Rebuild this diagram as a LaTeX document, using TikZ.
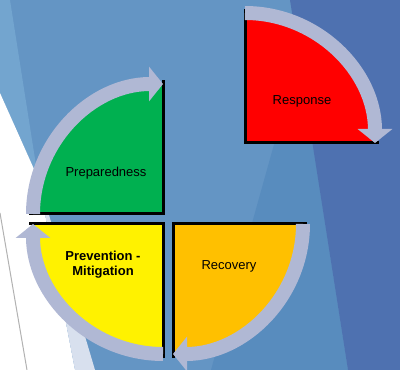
\documentclass[tikz,border=0pt]{standalone}
\usepackage{fontspec}
\setmainfont{Liberation Sans}
\usetikzlibrary{arrows.meta}
\definecolor{bgblue}{HTML}{6495C4}
\definecolor{bglight}{HTML}{73A5CF}
\definecolor{bgmid}{HTML}{588CBE}
\definecolor{bgdark}{HTML}{4E71B0}
\definecolor{bglav}{HTML}{D8E0EE}
\definecolor{ringgray}{HTML}{B0B8D4}
\definecolor{prepgreen}{HTML}{00B050}
\definecolor{recovorange}{HTML}{FFC000}
\tikzset{
  rim/.style={line width=3pt, black},
  cyclearrow/.style={line width=14pt, ringgray, -{Triangle[width=34pt,length=14pt]}},
  phase/.style={font=\fontsize{13}{15}\selectfont, text=black, align=center}
}

\begin{document}
\begin{tikzpicture}[x=1pt, y=1pt]
  \useasboundingbox (0,0) rectangle (400,370);
  % background
  \fill[bgblue] (0,0) rectangle (400,370);
  \fill[bglight] (0,370) -- (10,370) -- (38,192) -- (0,277) -- cycle;
  \fill[white] (0,277) -- (38,192) -- (75,0) -- (0,0) -- cycle;
  \fill[bglav] (38,192) -- (95,0) -- (75,0) -- cycle;
  \draw[gray!60, line width=1pt] (0,157) -- (27,0);
  \fill[bgmid] (299,315) -- (348,0) -- (211,0) -- cycle;
  \fill[bgdark] (290,370) -- (400,370) -- (400,0) -- (348,0) -- cycle;

  \coordinate (G) at (163,156);
  \coordinate (Y) at (163,146);
  \coordinate (O) at (173,146);
  \coordinate (R) at (245,227);

  % quarters
  \fill[prepgreen] (G) -- ++(180:130) arc[start angle=180, end angle=90, radius=130] -- cycle;
  \fill[yellow] (Y) -- ++(270:130) arc[start angle=270, end angle=180, radius=130] -- cycle;
  \fill[recovorange] (O) -- ++(0:130) arc[start angle=0, end angle=-90, radius=130] -- cycle;
  \fill[red] (R) -- ++(90:130) arc[start angle=90, end angle=0, radius=130] -- cycle;

  \draw[rim] (G) ++(-134,0) -- (G) -- ++(0,134);
  \draw[rim] (Y) ++(-134,0) -- (Y) -- ++(0,-134);
  \draw[rim] (O) ++(134,0) -- (O) -- ++(0,-134);
  \draw[rim] (R) ++(0,134) -- (R) -- ++(134,0);

  % arrows
  \draw[cyclearrow] (G) ++(180:130) arc[start angle=180, end angle=90, radius=130];
  \draw[cyclearrow] (Y) ++(270:130) arc[start angle=270, end angle=180, radius=130];
  \draw[cyclearrow] (O) ++(0:130) arc[start angle=0, end angle=-90, radius=130];
  \draw[cyclearrow] (R) ++(90:130) arc[start angle=90, end angle=0, radius=130];

  \node[phase] (prep) at (106,197) {Preparedness};
  \node[phase, font=\fontsize{13}{15}\selectfont\bfseries] (prev) at (103,105) {Prevention -\\Mitigation};
  \node[phase] (recov) at (229,104) {Recovery};
  \node[phase] (resp) at (302,269) {Response};
\end{tikzpicture}
\end{document}
